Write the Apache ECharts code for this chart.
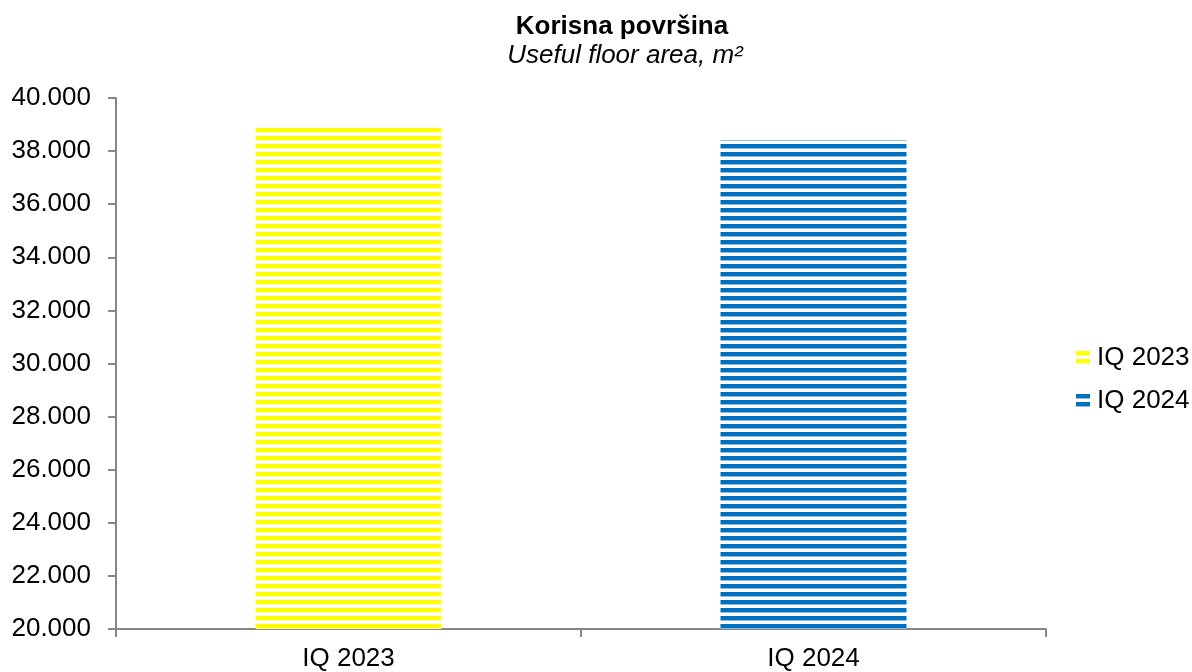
<!DOCTYPE html>
<html>
<head>
<meta charset="utf-8">
<script src="https://cdn.jsdelivr.net/npm/echarts@6/dist/echarts.min.js"></script>
<style>
    html, body { margin: 0; padding: 0; background: #fff; }
    #chart { width: 1192px; height: 672px; }
</style>
</head>
<body>
<div id="chart"></div>
<script>
    // data
    const categories = ['IQ 2023', 'IQ 2024'];
    const seriesNames = ['IQ 2023', 'IQ 2024'];
    const values2023 = [38960, '-'];
    const values2024 = ['-', 38420];

    // horizontal stripe fill like the original
    function stripes(main, edge) {
        const c = document.createElement('canvas');
        c.width = 8; c.height = 8;
        const ctx = c.getContext('2d');
        ctx.fillStyle = '#fff';
        ctx.fillRect(0, 0, 8, 8);
        ctx.fillStyle = edge;
        ctx.fillRect(0, 4, 8, 1);
        ctx.fillStyle = main;
        ctx.fillRect(0, 0, 8, 4);
        return { image: c, repeat: 'repeat' };
    }
    const yellowFill = stripes('#ffff00', '#ffff99');
    const blueFill = stripes('#0070c0', '#8dbce2');

    const fmt = v => String(v).replace(/\B(?=(\d{3})+(?!\d))/g, '.');
    const font = 'Liberation Sans, Arial, sans-serif';

    const chart = echarts.init(document.getElementById('chart'));
    chart.setOption({
        animation: false,
        title: [{
            text: 'Korisna površina',
            left: 617, top: 9, textAlign: 'center',
            textStyle: { fontFamily: font, fontSize: 26, fontWeight: 'bold', color: '#000' }
        }, {
            text: 'Useful floor area, m²',
            left: 620, top: 38, textAlign: 'center',
            textStyle: { fontFamily: font, fontSize: 26, fontStyle: 'italic', fontWeight: 'normal', color: '#000' }
        }],
        legend: {
            orient: 'vertical',
            left: 1076, top: 345, padding: 0,
            itemWidth: 14, itemHeight: 14, itemGap: 17,
            icon: 'rect',
            textStyle: { fontFamily: font, fontSize: 26, color: '#000', padding: [0, 0, 0, 2] },
            data: seriesNames
        },
        grid: { left: 116, right: 146, top: 98, bottom: 42 },
        xAxis: {
            type: 'category',
            data: categories,
            axisLine: { lineStyle: { color: '#868686', width: 2 } },
            axisTick: { show: true, length: 8, alignWithLabel: false, lineStyle: { color: '#868686', width: 2 } },
            axisLabel: { fontFamily: font, fontSize: 26, color: '#000', margin: 17 }
        },
        yAxis: {
            type: 'value',
            min: 20000, max: 40000, interval: 2000,
            axisLine: { show: true, lineStyle: { color: '#868686', width: 2 } },
            axisTick: { show: true, length: 8, lineStyle: { color: '#868686', width: 2 } },
            splitLine: { show: false },
            axisLabel: { fontFamily: font, fontSize: 26, color: '#000', margin: 25, formatter: fmt }
        },
        series: [{
            name: seriesNames[0],
            type: 'bar',
            data: values2023,
            barWidth: 186,
            barGap: '-100%',
            itemStyle: { color: yellowFill }
        }, {
            name: seriesNames[1],
            type: 'bar',
            data: values2024,
            barWidth: 186,
            itemStyle: { color: blueFill }
        }]
    });
</script>
</body>
</html>
